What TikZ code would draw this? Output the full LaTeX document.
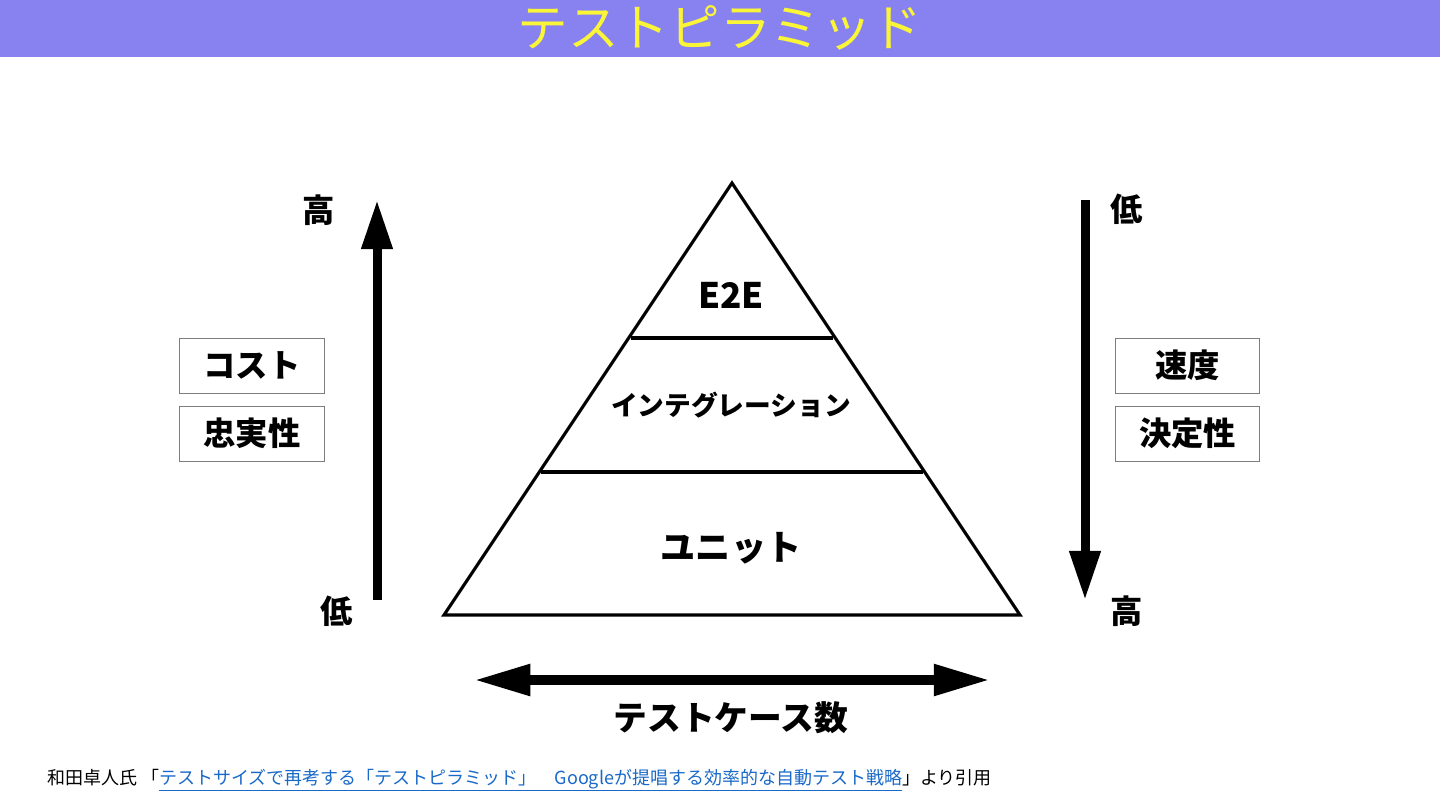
\documentclass[tikz,border=0pt]{standalone}
\usepackage{fontspec}
\setmainfont{Noto Sans CJK JP}
\usetikzlibrary{arrows.meta,calc}
\definecolor{pyrBar}{RGB}{135,130,239}
\definecolor{pyrYellow}{RGB}{250,245,55}
\definecolor{pyrLink}{RGB}{25,105,200}
\definecolor{pyrFrame}{RGB}{125,125,125}

\begin{document}
\begin{tikzpicture}[
  x=0.025cm, y=-0.025cm,
  lvllabel/.style={font=\fontsize{#1}{#1}\selectfont\bfseries, text=black, inner sep=0pt},
  endlabel/.style={font=\fontsize{23}{23}\selectfont\bfseries, text=black, inner sep=0pt},
  sidebox/.style={draw=pyrFrame, line width=0.7pt, minimum width=144*0.7113pt,
                  minimum height=55*0.7113pt, inner sep=0pt,
                  font=\fontsize{23}{23}\selectfont\bfseries},
  vertarrow/.style={line width=6.4pt, -{Triangle[length=35pt,width=21pt]}},
  bothways/.style={line width=7pt, {Triangle[length=40pt,width=21pt]}-{Triangle[length=40pt,width=21pt]}},
]

%% ── page size: 1 unit = 1 px of 1440 x 810 ───────────────
\useasboundingbox (0,0) rectangle (1440,810);

%% ── title bar ─────────────────────────────────────────────
\fill[pyrBar] (0,0) rectangle (1440,57);
\node[font=\fontsize{36}{36}\selectfont, text=pyrYellow, inner sep=0pt] (title)
     at (720,28) {テストピラミッド};

%% ── pyramid ───────────────────────────────────────────────
\coordinate (apex) at (732,183);
\coordinate (bl)   at (444,615);
\coordinate (br)   at (1020,615);
\draw[line width=2.2pt, line join=miter] (apex) -- (bl) -- (br) -- cycle;

% level borders (stop just short of the sides)
\coordinate (upL) at ($(apex)!0.3588!(bl)$);
\coordinate (upR) at ($(apex)!0.3588!(br)$);
\coordinate (loL) at ($(apex)!0.669!(bl)$);
\coordinate (loR) at ($(apex)!0.669!(br)$);
\draw[line width=2.2pt, shorten <=2pt, shorten >=2pt] (upL) -- (upR);
\draw[line width=2.2pt, shorten <=1pt, shorten >=1pt] (loL) -- (loR);

\node[lvllabel=25] (e2e)   at (731,295) {E2E};
\node[lvllabel=19] (integ) at (731,405) {インテグレーション};
\node[lvllabel=25] (unit)  at (731,548) {ユニット};

%% ── left side: cost / fidelity ────────────────────────────
\coordinate (lbot) at (377,600);
\coordinate (ltop) at (377,200);
\draw[vertarrow] (lbot) -- (ltop);
\node[endlabel] (lhigh) at (319,210) {高};
\node[endlabel] (llow)  at (337,611) {低};

\node[sidebox] (cost)     at (252,365.5) {コスト};
\node[sidebox] (fidelity) at (252,433.5) {忠実性};

%% ── right side: speed / determinism ──────────────────────
\coordinate (rtop) at (1085,200);
\coordinate (rbot) at (1085,600);
\draw[vertarrow] (rtop) -- (rbot);
\node[endlabel] (rlow)  at (1127,209) {低};
\node[endlabel] (rhigh) at (1127,611) {高};

\node[sidebox] (speed)   at (1187.5,365.5) {速度};
\node[sidebox] (determ)  at (1187.5,433.5) {決定性};

%% ── bottom: number of test cases ─────────────────────────
\coordinate (cl) at (474,680);
\coordinate (cr) at (990,680);
\draw[bothways] (cl) -- (cr);
\node[lvllabel=24] (count) at (731,718) {テストケース数};

%% ── source line ──────────────────────────────────────────
\node[font=\fontsize{12.8}{13}\selectfont, anchor=base west, inner sep=0pt] (source)
     at (47,784)
     {和田卓人氏 「\textcolor{pyrLink}{\underline{テストサイズで再考する「テストピラミッド」　Googleが提唱する効率的な自動テスト戦略}}」より引用};

\end{tikzpicture}
\end{document}
